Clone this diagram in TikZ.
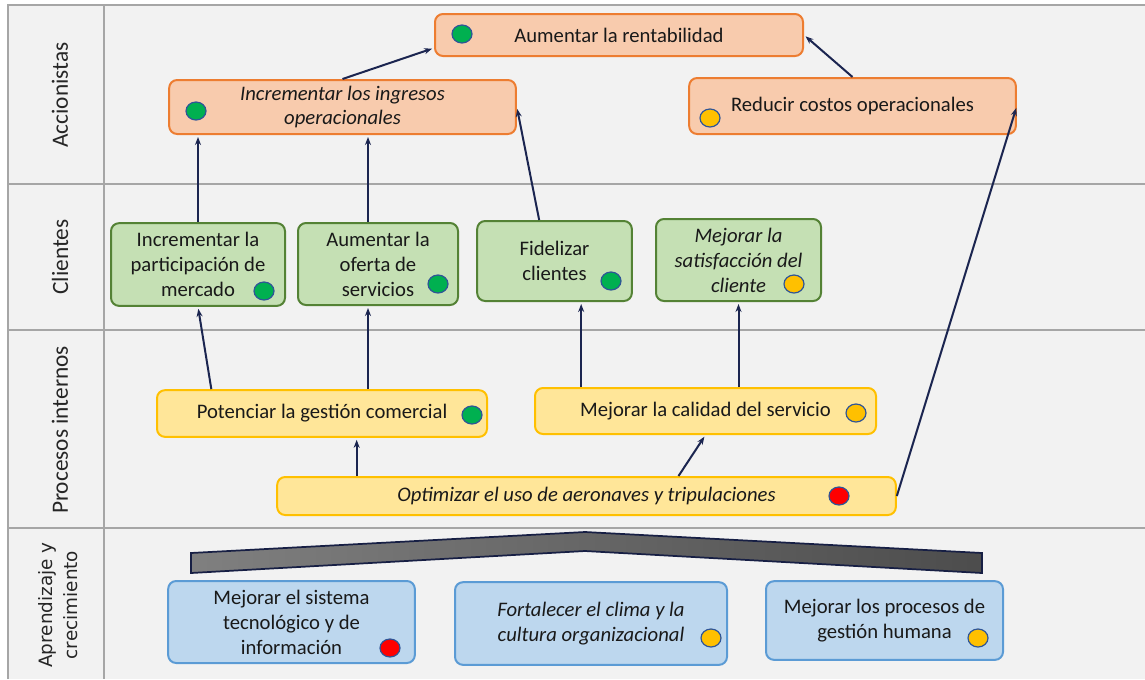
\documentclass[tikz,border=0pt]{standalone}
\usepackage{fontspec}
\setmainfont{Carlito}
\newfontfamily\lanefont{DejaVu Sans}
\usetikzlibrary{positioning, shapes.geometric, arrows.meta}
\definecolor{lanebg}{HTML}{F2F2F2}
\definecolor{laneline}{HTML}{A6A6A6}
\definecolor{orfill}{HTML}{F8CBAD}
\definecolor{ordraw}{HTML}{ED7D31}
\definecolor{grfill}{HTML}{C5E0B4}
\definecolor{grdraw}{HTML}{548235}
\definecolor{yefill}{HTML}{FFE699}
\definecolor{yedraw}{HTML}{FFC000}
\definecolor{blfill}{HTML}{BDD7EE}
\definecolor{bldraw}{HTML}{5B9BD5}
\definecolor{dotgreen}{HTML}{00B050}
\definecolor{dotyellow}{HTML}{FFC000}
\definecolor{dotred}{HTML}{FF0000}
\definecolor{dotrim}{HTML}{2F5597}
\definecolor{navy}{HTML}{1B2550}

\begin{document}
\begin{tikzpicture}[
        x=0.75pt, y=-0.75pt,
        goal/.style={rectangle, rounded corners=6pt, line width=1.5pt, inner sep=0pt, align=center, text=black!90, font=\fontsize{15.5}{18.7}\selectfont},
        accion/.style={goal, fill=orfill, draw=ordraw},
        cliente/.style={goal, fill=grfill, draw=grdraw},
        proceso/.style={goal, fill=yefill, draw=yedraw},
        aprende/.style={goal, fill=blfill, draw=bldraw},
        dims/.style 2 args={minimum width=#1, minimum height=#2},
        dot/.style={ellipse, fill=#1, draw=dotrim, line width=0.9pt, minimum width=15pt, minimum height=13.5pt, inner sep=0pt},
        lane/.style={rotate=90, text=black!85, font=\fontsize{17.5}{21}\selectfont},
        arr/.style={-{Stealth[length=6pt, width=4.5pt]}, line width=1.5pt, navy, shorten >=1.5pt}
    ]
    \useasboundingbox (0,0) rectangle (1145,679);

    % lanes
    \fill[lanebg] (8,5) rectangle (1145,679);
    \draw[laneline, line width=1.5pt] (8,679) -- (8,5) -- (1145,5);
    \draw[laneline, line width=1.5pt] (104,5) -- (104,679);
    \draw[laneline, line width=1.5pt] (8,184) -- (1145,184);
    \draw[laneline, line width=1.5pt] (8,330) -- (1145,330);
    \draw[laneline, line width=1.5pt] (8,528) -- (1145,528);

    \node (lacc) [lane] at (60,95) {Accionistas};
    \node (lcli) [lane] at (60,257) {Clientes};
    \node (lpro) [lane] at (60,430) {Procesos internos};
    \node (lapr) [lane, align=center, font=\lanefont\fontsize{13.8}{18.75}\selectfont] at (58,605) {Aprendizaje y\\crecimiento};

    % accionistas
    \node (rent) [accion, dims={276pt}{31.5pt}] at (619,35) {Aumentar la rentabilidad};
    \node (ingr) [accion, dims={260pt}{40.5pt}] at (342.5,107) {\itshape Incrementar los ingresos\\\itshape operacionales};
    \node (costos) [accion, dims={245pt}{42pt}] at (852.5,106) {Reducir costos operacionales};

    % clientes
    \node (part) [cliente, dims={130.5pt}{62pt}] at (198,264.5) {Incrementar la\\participación de\\mercado};
    \node (oferta) [cliente, dims={120pt}{61.5pt}] at (378,264) {Aumentar la\\oferta de\\servicios};
    \node (fidel) [cliente, dims={116pt}{60pt}] at (554.5,261) {Fidelizar\\clientes};
    \node (satisf) [cliente, dims={123.75pt}{61.5pt}] at (738.5,260) {\itshape Mejorar la\\\itshape satisfacción del\\\itshape cliente};

    % procesos internos
    \node (potenc) [proceso, dims={247.5pt}{35pt}] at (322,413.5) {Potenciar la gestión comercial};
    \node (calidad) [proceso, dims={255.75pt}{34.5pt}] at (705.5,411) {Mejorar la calidad del servicio};
    \node (optim) [proceso, dims={464pt}{28.5pt}] at (586.5,496) {\itshape Optimizar el uso de aeronaves y tripulaciones};

    % aprendizaje y crecimiento
    \shade[left color=black!50, right color=black!70, draw=navy!85!black, line width=1.3pt]
        (191,553) -- (585,532) -- (982,553) -- (982,573) -- (585,551) -- (191,573) -- cycle;
    \node (tecno) [aprende, dims={185pt}{61.5pt}] at (291.5,622) {Mejorar el sistema\\tecnológico y de\\información};
    \node (clima) [aprende, dims={204pt}{62pt}] at (591,623.5) {\itshape Fortalecer el clima y la\\\itshape cultura organizacional};
    \node (humana) [aprende, dims={177.75pt}{59pt}] at (884.5,620.5) {Mejorar los procesos de\\gestión humana};

    % semaforos
    \node (drent) [dot=dotgreen] at (462,34) {};
    \node (dingr) [dot=dotgreen] at (196,111) {};
    \node (dcostos) [dot=dotyellow] at (710,118) {};
    \node (dpart) [dot=dotgreen] at (264,291) {};
    \node (doferta) [dot=dotgreen] at (438,284) {};
    \node (dfidel) [dot=dotgreen] at (611,281) {};
    \node (dsatisf) [dot=dotyellow] at (794,284) {};
    \node (dpotenc) [dot=dotgreen] at (472,415) {};
    \node (dcalidad) [dot=dotyellow] at (856,413) {};
    \node (doptim) [dot=dotred] at (839,496) {};
    \node (dtecno) [dot=dotred] at (390,648) {};
    \node (dclima) [dot=dotyellow] at (711,638) {};
    \node (dhumana) [dot=dotyellow] at (978,638) {};

    % relaciones causa-efecto
    \draw[arr] (ingr.north) -- ([yshift=6.75pt]rent.south west);
    \draw[arr] (costos.north) -- (rent.east);
    \draw[arr] (part.north) -- (part.north |- ingr.south);
    \draw[arr] ([xshift=-7.5pt]oferta.north) -- ([xshift=-7.5pt]oferta.north |- ingr.south);
    \draw[arr] ([xshift=-11.5pt]fidel.north) -- (ingr.east);
    \draw[arr] (optim.east) -- (costos.east);
    \draw[arr] ([xshift=-83pt]potenc.north) -- (part.south);
    \draw[arr] ([xshift=-7.5pt]oferta.south |- potenc.north) -- ([xshift=-7.5pt]oferta.south);
    \draw[arr] ([xshift=20pt]fidel.south |- calidad.north) -- ([xshift=20pt]fidel.south);
    \draw[arr] (satisf.south |- calidad.north) -- (satisf.south);
    \draw[arr] ([xshift=26pt]potenc.south |- optim.north) -- ([xshift=26pt]potenc.south);
    \draw[arr] ([xshift=69pt]optim.north) -- (calidad.south);
\end{tikzpicture}
\end{document}
